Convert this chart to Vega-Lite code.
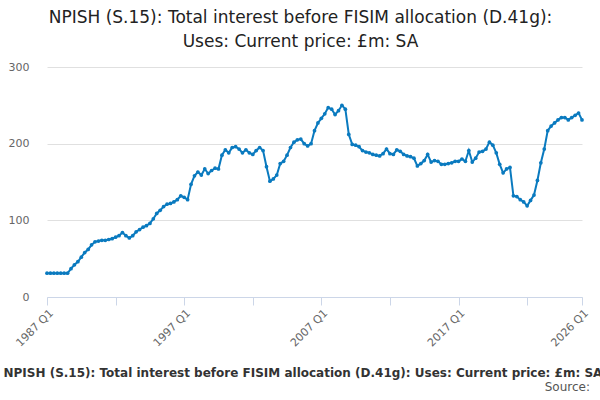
{
  "$schema": "https://vega.github.io/schema/vega-lite/v6.json",
  "width": 535,
  "height": 230,
  "autosize": "none",
  "padding": {"left": 47, "top": 67, "right": 18, "bottom": 103},
  "title": {
    "text": ["NPISH (S.15): Total interest before FISIM allocation (D.41g):", "Uses: Current price: £m: SA"],
    "fontSize": 17, "fontWeight": "normal", "color": "#222", "font": "DejaVu Sans",
    "anchor": "middle", "dx": -14, "offset": 10, "lineHeight": 24
  },
  "data": {"values": [
    {"q":0,"v":31},{"q":1,"v":31},{"q":2,"v":31},{"q":3,"v":31},{"q":4,"v":31},{"q":5,"v":31},{"q":6,"v":31},
    {"q":7,"v":37},{"q":8,"v":42},{"q":9,"v":46},{"q":10,"v":52},{"q":11,"v":58},{"q":12,"v":62},{"q":13,"v":68},{"q":14,"v":72},{"q":15,"v":73},{"q":16,"v":74},
    {"q":17,"v":74},{"q":18,"v":75},{"q":19,"v":76},{"q":20,"v":78},{"q":21,"v":80},{"q":22,"v":84},{"q":23,"v":80},{"q":24,"v":77},{"q":25,"v":80},{"q":26,"v":85},
    {"q":27,"v":88},{"q":28,"v":91},{"q":29,"v":93},{"q":30,"v":96},{"q":31,"v":102},{"q":32,"v":109},{"q":33,"v":113},{"q":34,"v":118},{"q":35,"v":121},{"q":36,"v":122},
    {"q":37,"v":124},{"q":38,"v":127},{"q":39,"v":132},{"q":40,"v":130},{"q":41,"v":127},{"q":42,"v":147},{"q":43,"v":158},{"q":44,"v":163},{"q":45,"v":159},{"q":46,"v":167},
    {"q":47,"v":161},{"q":48,"v":165},{"q":49,"v":168},{"q":50,"v":167},{"q":51,"v":185},{"q":52,"v":192},{"q":53,"v":188},{"q":54,"v":195},{"q":55,"v":196},{"q":56,"v":193},
    {"q":57,"v":188},{"q":58,"v":192},{"q":59,"v":188},{"q":60,"v":186},{"q":61,"v":191},{"q":62,"v":195},{"q":63,"v":191},{"q":64,"v":170},{"q":65,"v":151},{"q":66,"v":154},
    {"q":67,"v":159},{"q":68,"v":174},{"q":69,"v":177},{"q":70,"v":185},{"q":71,"v":195},{"q":72,"v":202},{"q":73,"v":205},{"q":74,"v":206},{"q":75,"v":200},{"q":76,"v":197},
    {"q":77,"v":200},{"q":78,"v":217},{"q":79,"v":227},
    {"q":80,"v":233},{"q":81,"v":239},{"q":82,"v":247},{"q":83,"v":245},{"q":84,"v":238},{"q":85,"v":243},{"q":86,"v":250},{"q":87,"v":245},{"q":88,"v":212},{"q":89,"v":199},
    {"q":90,"v":198},{"q":91,"v":196},{"q":92,"v":191},{"q":93,"v":189},{"q":94,"v":188},{"q":95,"v":186},{"q":96,"v":185},{"q":97,"v":184},{"q":98,"v":187},{"q":99,"v":193},
    {"q":100,"v":187},{"q":101,"v":186},{"q":102,"v":192},{"q":103,"v":190},{"q":104,"v":186},{"q":105,"v":184},{"q":106,"v":183},{"q":107,"v":181},{"q":108,"v":171},{"q":109,"v":174},
    {"q":110,"v":178},{"q":111,"v":186},{"q":112,"v":176},{"q":113,"v":178},{"q":114,"v":177},{"q":115,"v":173},{"q":116,"v":173},{"q":117,"v":174},{"q":118,"v":175},{"q":119,"v":177},
    {"q":120,"v":177},{"q":121,"v":180},{"q":122,"v":177},{"q":123,"v":191},{"q":124,"v":176},{"q":125,"v":181},{"q":126,"v":189},{"q":127,"v":190},{"q":128,"v":193},{"q":129,"v":202},
    {"q":130,"v":198},{"q":131,"v":188},{"q":132,"v":173},{"q":133,"v":162},{"q":134,"v":167},{"q":135,"v":169},{"q":136,"v":132},{"q":137,"v":131},{"q":138,"v":127},{"q":139,"v":124},
    {"q":140,"v":119},{"q":141,"v":126},{"q":142,"v":133},{"q":143,"v":152},{"q":144,"v":175},{"q":145,"v":193},{"q":146,"v":217},{"q":147,"v":223},{"q":148,"v":227},{"q":149,"v":231},
    {"q":150,"v":234},{"q":151,"v":234},{"q":152,"v":231},{"q":153,"v":234},{"q":154,"v":237},{"q":155,"v":240},{"q":156,"v":231}
  ]},
  "layer": [
    {
      "mark": {"type": "line", "color": "#0a7abf", "strokeWidth": 2, "point": {"filled": true, "size": 14, "color": "#0a7abf"}},
      "encoding": {
        "x": {
          "field": "q", "type": "quantitative",
          "scale": {"domain": [0, 156], "nice": false, "zero": false},
          "axis": {
            "values": [0,10,20,30,40,50,60,70,80,90,100,110,120,130,140,150,156],
            "labelExpr": "datum.value == 0 ? '1987 Q1' : datum.value == 40 ? '1997 Q1' : datum.value == 80 ? '2007 Q1' : datum.value == 120 ? '2017 Q1' : datum.value == 156 ? '2026 Q1' : ''",
            "labelAngle": -45, "labelAlign": "right", "labelBaseline": "top", "labelColor": "#666", "labelFontSize": 11, "labelFont": "DejaVu Sans",
            "tickColor": "#ccd6e8", "tickSize": 8, "domainColor": "#ccd6e8", "grid": false, "labelOverlap": false, "labelBound": false,
            "title": "NPISH (S.15): Total interest before FISIM allocation (D.41g): Uses: Current price: £m: SA",
            "titleFontSize": 12, "titleFontWeight": "bold", "titleFont": "DejaVu Sans", "titleColor": "#333",
            "titleAnchor": "start", "titleAlign": "left", "titleX": -44, "titleY": 70, "titleLimit": 1000
          }
        },
        "y": {
          "field": "v", "type": "quantitative",
          "scale": {"domain": [0, 300], "nice": false},
          "axis": {"values": [0,100,200,300], "domain": false, "ticks": false, "labelColor": "#666", "labelFontSize": 11, "labelFont": "DejaVu Sans", "labelPadding": 18, "gridColor": "#e0e0e0", "title": null}
        }
      }
    },
    {
      "data": {"values": [{"s": "Source:"}]},
      "mark": {"type": "text", "align": "right", "baseline": "top", "clip": false, "fontSize": 12, "font": "DejaVu Sans", "color": "#555", "dx": 8},
      "encoding": {
        "x": {"datum": 156, "type": "quantitative"},
        "y": {"datum": -111, "type": "quantitative"},
        "text": {"field": "s"}
      }
    }
  ],
  "config": {"view": {"stroke": null}}
}
